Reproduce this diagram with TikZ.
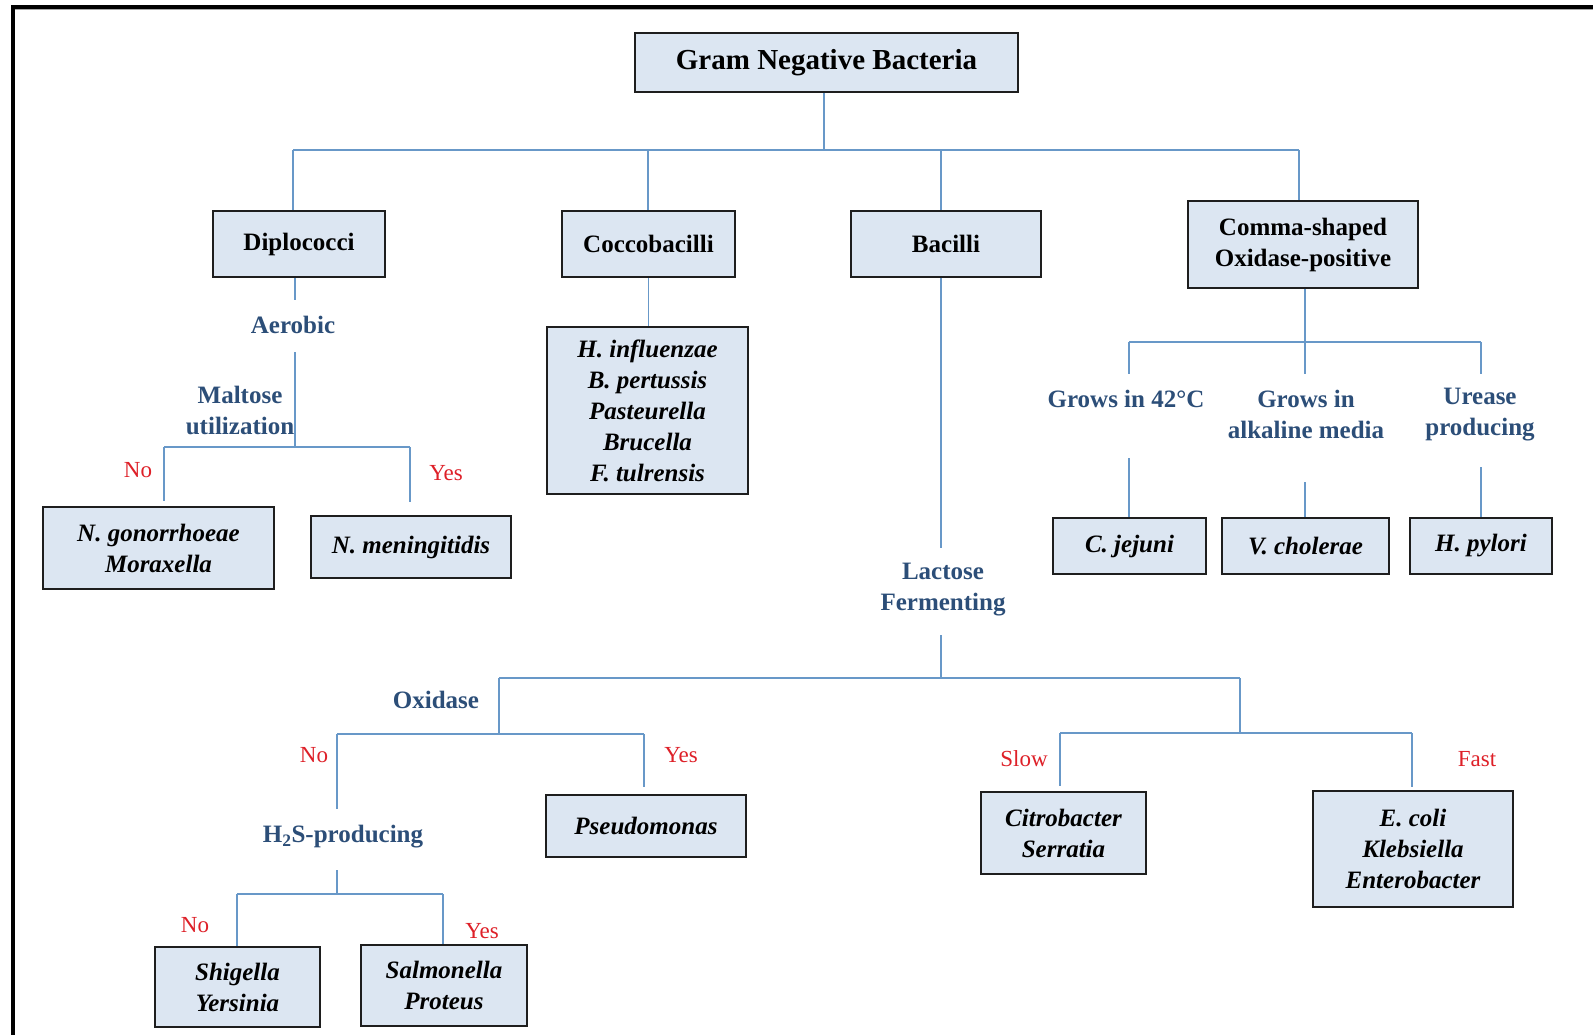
\documentclass[tikz,border=0pt]{standalone}
\usepackage{fontspec}
\setmainfont{Liberation Serif}
\definecolor{boxfill}{RGB}{220,230,242}
\definecolor{boxline}{RGB}{30,30,30}
\definecolor{connblue}{RGB}{104,152,200}
\definecolor{critblue}{RGB}{44,78,120}
\definecolor{ansred}{RGB}{222,32,40}
\begin{document}
\begin{tikzpicture}[x=1pt,y=-1pt,
  box/.style={draw=boxline, line width=1.8pt, fill=boxfill, inner sep=0pt,
    align=center, font=\bfseries\fontsize{25}{31}\selectfont},
  sp/.style={box, font=\bfseries\itshape\fontsize{25}{31}\selectfont},
  crit/.style={text=critblue, inner sep=0pt, align=center,
    font=\bfseries\fontsize{25}{31}\selectfont},
  ans/.style={text=ansred, inner sep=0pt, font=\fontsize{23}{28}\selectfont},
  conn/.style={draw=connblue, line width=1.6pt}]

\useasboundingbox (0,0) rectangle (1593,1035);
\fill[white] (0,0) rectangle (1593,1035);

% outer frame (top and left edges)
\draw[line width=4pt, line join=miter] (1600,7) -- (12.5,7) -- (12.5,1040);
\draw[gray!70, line width=0.8pt] (14.5,9.8) -- (1600,9.8);

% ---------- boxes ----------
\node[box, minimum width=383pt, minimum height=59pt,
  font=\bfseries\fontsize{29}{34}\selectfont] (root) at (826.5,62.5) {Gram Negative Bacteria};

\node[box, minimum width=172pt, minimum height=66pt] (dip)   at (299,244)   {Diplococci};
\node[box, minimum width=173pt, minimum height=66pt] (cocco) at (648.5,244) {Coccobacilli};
\node[box, minimum width=190pt, minimum height=66pt] (bac)   at (946,244)   {Bacilli};
\node[box, minimum width=230pt, minimum height=87pt] (comma) at (1303,244.5) {Comma-shaped\\Oxidase-positive};

\node[sp, minimum width=231pt, minimum height=82pt]  (gono)    at (158.5,548)  {N. gonorrhoeae\\Moraxella};
\node[sp, minimum width=200pt, minimum height=62pt]  (menin)   at (411,547)    {N. meningitidis};
\node[sp, minimum width=201pt, minimum height=167pt] (coccosp) at (647.5,410.5)
  {H. influenzae\\B. pertussis\\Pasteurella\\Brucella\\F. tulrensis};
\node[sp, minimum width=153pt, minimum height=56pt]  (jejuni)  at (1129.5,546) {C. jejuni};
\node[sp, minimum width=167pt, minimum height=56pt]  (chol)    at (1305.5,546) {V. cholerae};
\node[sp, minimum width=142pt, minimum height=56pt]  (pylori)  at (1481,546)   {H. pylori};
\node[sp, minimum width=200pt, minimum height=62pt]  (pseudo)  at (646,826)    {Pseudomonas};
\node[sp, minimum width=165pt, minimum height=80pt]  (shig)    at (237.5,987)  {Shigella\\Yersinia};
\node[sp, minimum width=166pt, minimum height=81pt]  (salm)    at (444,985.5)  {Salmonella\\Proteus};
\node[sp, minimum width=165pt, minimum height=82pt]  (citro)   at (1063.5,833) {Citrobacter\\Serratia};
\node[sp, minimum width=200pt, minimum height=116pt] (ecoli)   at (1413,849)   {E. coli\\Klebsiella\\Enterobacter};

% ---------- criteria ----------
\node[crit] (aerobic) at (293,325)    {Aerobic};
\node[crit] (maltose) at (240,410.5)  {Maltose\\utilization};
\node[crit] (g42)     at (1126,399)   {Grows in 42°C};
\node[crit] (alk)     at (1306,414.5) {Grows in\\alkaline media};
\node[crit] (urease)  at (1480,414.5) {Urease\\producing};
\node[crit] (lactose) at (943,590)    {Lactose\\Fermenting};
\node[crit] (oxidase) at (436,700)    {Oxidase};
\node[crit] (htwos)   at (343,837)    {H\textsubscript{2}S-producing};

% ---------- answers ----------
\node[ans] (no1)  at (138,470)  {No};
\node[ans] (yes1) at (446,473)  {Yes};
\node[ans] (no2)  at (314,755)  {No};
\node[ans] (yes2) at (681,755)  {Yes};
\node[ans] (no3)  at (195,925)  {No};
\node[ans] (yes3) at (482,931)  {Yes};
\node[ans] (slow) at (1024,759) {Slow};
\node[ans] (fast) at (1477,759) {Fast};

% ---------- junction points ----------
\coordinate (t0) at (824,150);
\coordinate (t1) at (293,150);
\coordinate (t2) at (648,150);
\coordinate (t3) at (941,150);
\coordinate (t4) at (1299,150);

\coordinate (d0) at (295,300);
\coordinate (d1) at (295,352);
\coordinate (d2) at (295,447);
\coordinate (m1) at (164,447);
\coordinate (m2) at (410,447);
\coordinate (m1e) at (164,501);
\coordinate (m2e) at (410,502);

\coordinate (c0) at (1305,342);
\coordinate (c1) at (1129,342);
\coordinate (c3) at (1481,342);
\coordinate (c0e) at (1305,374);
\coordinate (c1e) at (1129,374);
\coordinate (c3e) at (1481,374);
\coordinate (c1s) at (1129,458);
\coordinate (c0s) at (1305,482);
\coordinate (c3s) at (1481,467);

\coordinate (l0) at (941,548);
\coordinate (l1) at (941,635);
\coordinate (l2) at (941,678);
\coordinate (o1) at (499,678);
\coordinate (o2) at (1240,678);
\coordinate (o1e) at (499,734);
\coordinate (n1) at (337,734);
\coordinate (n2) at (644,734);
\coordinate (n1e) at (337,809);
\coordinate (n2e) at (644,787);
\coordinate (h1) at (337,870);
\coordinate (h2) at (337,894);
\coordinate (s1) at (237,894);
\coordinate (s2) at (443,894);
\coordinate (o2e) at (1240,733);
\coordinate (r1) at (1060,733);
\coordinate (r2) at (1412,733);
\coordinate (r1e) at (1060,786);
\coordinate (r2e) at (1412,787);

% ---------- connectors ----------
% first level
\draw[conn] (root.south -| t0) -- (t0);
\draw[conn] (t1) -- (t4);
\draw[conn] (t1) -- (t1 |- dip.north);
\draw[conn] (t2) -- (t2 |- cocco.north);
\draw[conn] (t3) -- (t3 |- bac.north);
\draw[conn] (t4) -- (t4 |- comma.north);

% diplococci branch
\draw[conn] (dip.south -| d0) -- (d0);
\draw[conn] (d1) -- (d2);
\draw[conn] (m1) -- (m2);
\draw[conn] (m1) -- (m1e);
\draw[conn] (m2) -- (m2e);

% coccobacilli branch
\draw[conn] (cocco.south) -- (cocco.south |- coccosp.north);

% comma-shaped branch
\draw[conn] (comma.south -| c0) -- (c0e);
\draw[conn] (c1) -- (c3);
\draw[conn] (c1) -- (c1e);
\draw[conn] (c3) -- (c3e);
\draw[conn] (c1s) -- (c1s |- jejuni.north);
\draw[conn] (c0s) -- (c0s |- chol.north);
\draw[conn] (c3s) -- (c3s |- pylori.north);

% bacilli branch
\draw[conn] (bac.south -| l0) -- (l0);
\draw[conn] (l1) -- (l2);
\draw[conn] (o1) -- (o2);
\draw[conn] (o1) -- (o1e);
\draw[conn] (n1) -- (n2);
\draw[conn] (n1) -- (n1e);
\draw[conn] (n2) -- (n2e);
\draw[conn] (h1) -- (h2);
\draw[conn] (s1) -- (s2);
\draw[conn] (s1) -- (s1 |- shig.north);
\draw[conn] (s2) -- (s2 |- salm.north);
\draw[conn] (o2) -- (o2e);
\draw[conn] (r1) -- (r2);
\draw[conn] (r1) -- (r1e);
\draw[conn] (r2) -- (r2e);
\end{tikzpicture}
\end{document}
